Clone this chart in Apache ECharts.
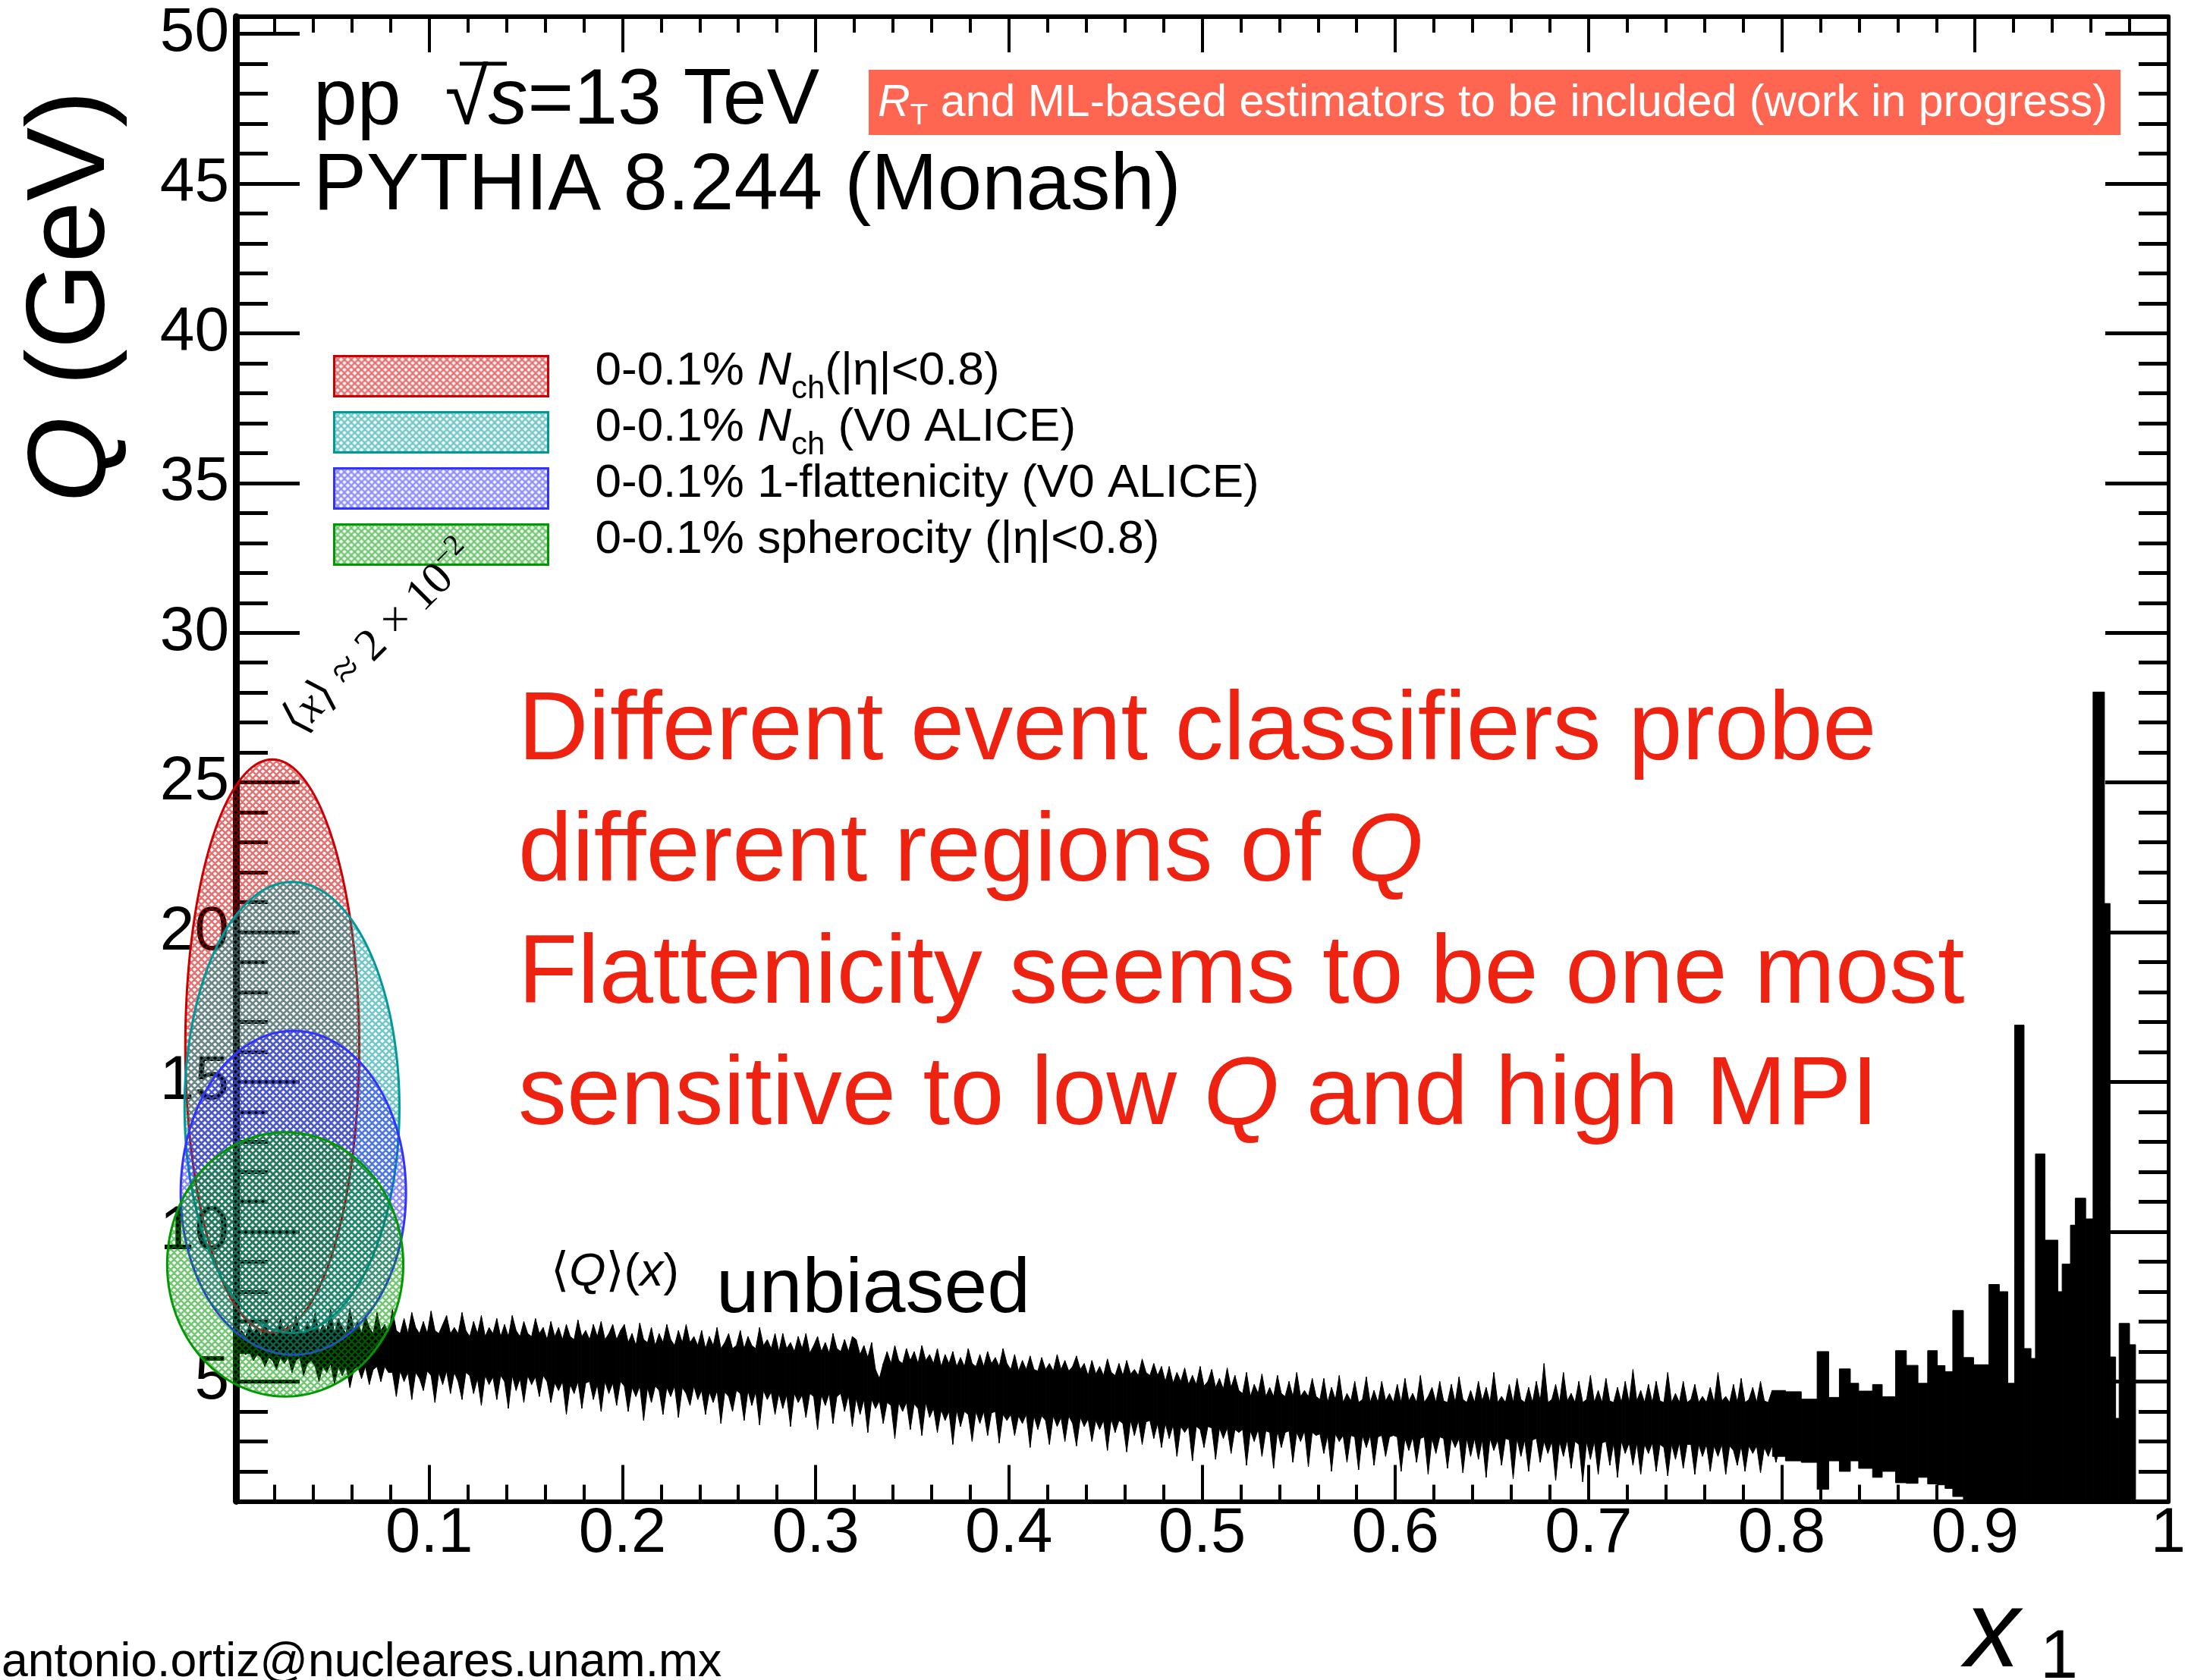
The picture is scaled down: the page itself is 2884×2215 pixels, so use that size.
<!DOCTYPE html>
<html><head><meta charset="utf-8">
<script src="https://cdn.jsdelivr.net/npm/echarts@6/dist/echarts.min.js"></script>
<style>html,body{margin:0;padding:0;background:#fff}#c{width:2884px;height:2215px}</style>
</head><body><div id="c"></div>
<script>
// ---------------- data ----------------
const yMajorTicks = [5, 10, 15, 20, 25, 30, 35, 40, 45, 50];
const yMinorTicks = [2, 3, 4, 6, 7, 8, 9, 11, 12, 13, 14, 16, 17, 18, 19, 21, 22, 23, 24, 26, 27, 28, 29,
  31, 32, 33, 34, 36, 37, 38, 39, 41, 42, 43, 44, 46, 47, 48, 49];

const ellipseNames = [
  '0-0.1% Nch(|η|<0.8)',
  '0-0.1% Nch (V0 ALICE)',
  '0-0.1% 1-flattenicity (V0 ALICE)',
  '0-0.1% spherocity (|η|<0.8)'
];
const ellipseCx = [0.0188, 0.0290, 0.0297, 0.0255];
const ellipseCy = [16.2, 14.15, 11.3, 8.91];
const ellipseRx = [0.0450, 0.0556, 0.0583, 0.0611];
const ellipseRy = [9.57, 7.53, 5.41, 4.41];

// <Q>(x) unbiased profile: bin centres start at bandStart with step bandStep
const bandStart = 0.001, bandStep = 0.002;
const bandHigh = [
  6.6, 6.7, 6.5, 6.9, 6.6, 6.8, 6.5, 7.0, 6.6, 6.7, 6.5, 7.1, 6.6, 6.9, 6.6, 7.2, 6.7, 6.6, 7.0, 6.7,
  7.3, 6.6, 6.9, 6.7, 7.4, 6.6, 7.1, 6.8, 6.6, 7.45, 6.7, 7.0, 6.6, 7.2, 6.8, 6.6, 7.3, 6.7, 6.9, 6.6,
  7.4, 6.7, 6.6, 7.1, 6.6, 7.3, 6.8, 6.6, 7.0, 6.6, 7.35, 6.7, 6.6, 6.9, 7.2, 6.6, 6.8, 6.6, 7.3, 6.7,
  6.5, 7.0, 6.6, 7.2, 6.5, 6.8, 6.6, 7.1, 6.5, 6.9, 6.5, 7.2, 6.7, 6.5, 7.0, 6.6, 6.5, 7.1, 6.6, 6.8,
  6.4, 7.0, 6.5, 6.8, 6.4, 6.9, 6.5, 6.4, 7.05, 6.5, 6.7, 6.4, 6.9, 6.5, 7.0, 6.4, 6.6, 6.9, 6.4, 6.7,
  6.9, 6.3, 6.6, 6.2, 6.95, 6.4, 6.3, 6.8, 6.2, 6.6, 6.3, 6.9, 6.4, 6.2, 6.7, 6.3, 6.9, 6.3, 6.5, 6.2,
  6.7, 6.1, 6.5, 6.2, 6.8, 6.1, 6.3, 6.6, 6.1, 6.2, 6.7, 6.1, 6.5, 6.2, 6.1, 6.8, 6.2, 6.4, 6.1, 6.6,
  6.0, 6.6, 6.1, 6.3, 6.0, 6.5, 6.1, 6.6, 5.95, 6.2, 6.5, 6.0, 6.3, 5.95, 6.6, 6.1, 6.0, 6.4, 6.0, 6.5,
  6.4, 5.9, 6.2, 5.8, 6.3, 5.4, 5.1, 5.6, 6.0, 5.6, 6.2, 5.7, 5.6, 6.1, 5.7, 6.0, 5.6, 6.2, 5.7, 5.9,
  5.6, 6.1, 5.5, 5.9, 5.6, 6.0, 5.5, 5.8, 5.5, 6.1, 5.6, 5.5, 5.9, 5.5, 6.0, 5.6, 5.8, 5.5, 6.1, 5.6,
  5.4, 5.9, 5.35, 5.7, 5.4, 5.85, 5.4, 5.35, 5.8, 5.4, 5.6, 5.35, 5.9, 5.4, 5.7, 5.35, 5.5, 5.85, 5.4, 5.6,
  5.2, 5.7, 5.25, 5.5, 5.2, 5.75, 5.3, 5.2, 5.6, 5.2, 5.7, 5.25, 5.4, 5.2, 5.75, 5.3, 5.2, 5.6, 5.2, 5.5,
  5.0, 5.5, 4.95, 5.3, 5.0, 5.45, 4.9, 5.2, 4.9, 5.5, 4.85, 5.0, 5.4, 4.8, 5.1, 4.75, 5.45, 4.8, 5.2, 4.7,
  4.6, 5.3, 4.5, 4.9, 4.6, 5.25, 4.5, 4.8, 4.5, 5.2, 4.6, 4.5, 5.0, 4.5, 5.3, 4.5, 4.7, 4.5, 5.1, 4.5,
  4.4, 5.1, 4.3, 4.8, 4.4, 5.2, 4.3, 4.6, 4.35, 5.0, 4.3, 4.4, 5.15, 4.3, 4.7, 4.3, 5.0, 4.35, 4.6, 4.3,
  4.9, 4.3, 5.1, 4.35, 4.6, 4.3, 5.2, 4.3, 4.5, 4.8, 4.3, 5.0, 4.35, 4.3, 4.9, 4.3, 5.15, 4.4, 4.3, 4.7,
  4.3, 5.0, 4.35, 4.8, 4.3, 5.3, 4.3, 4.5, 4.3, 4.9, 4.3, 5.1, 4.4, 4.3, 4.8, 4.3, 5.0, 4.35, 5.6, 4.3,
  4.4, 4.9, 4.3, 5.3, 4.35, 4.6, 4.3, 5.0, 4.3, 4.4, 5.2, 4.3, 4.7, 4.3, 5.1, 4.35, 4.3, 4.8, 4.3, 5.0,
  4.3, 5.4, 4.35, 4.7, 4.3, 4.9, 4.3, 5.0, 4.35, 4.3, 5.3, 4.3, 4.6, 4.3, 5.0, 4.3, 4.4, 4.9, 4.3, 4.5,
  4.3, 4.8, 4.3, 5.3, 4.35, 4.5, 4.3, 4.9, 4.3, 5.1, 4.3, 4.4, 4.8, 4.3, 5.0, 4.35, 4.3, 4.7, 4.3, 4.6
];
const bandLow = [
  6.1, 6.0, 5.9, 6.0, 5.7, 5.9, 5.8, 5.5, 5.8, 5.7, 5.4, 5.8, 5.6, 5.8, 5.3, 5.7, 5.8, 5.2, 5.6, 5.7,
  5.5, 5.0, 5.5, 5.3, 5.6, 4.9, 5.5, 5.2, 5.5, 4.8, 5.4, 5.5, 5.1, 5.5, 4.9, 5.4, 5.5, 5.0, 5.5, 5.3,
  5.3, 4.5, 5.35, 5.0, 5.3, 4.4, 5.3, 5.1, 4.7, 5.35, 5.2, 4.3, 5.3, 4.9, 5.35, 4.6, 5.3, 5.0, 4.4, 5.3,
  5.2, 4.6, 5.1, 4.2, 5.2, 4.9, 5.15, 4.4, 5.2, 5.0, 4.1, 5.2, 4.7, 5.1, 4.3, 5.2, 4.9, 5.15, 4.5, 5.2,
  5.0, 4.3, 4.95, 4.7, 5.0, 3.9, 4.9, 4.6, 5.0, 4.1, 4.95, 5.0, 4.4, 4.9, 4.0, 5.0, 4.6, 4.95, 4.2, 5.0,
  4.85, 4.0, 4.8, 4.5, 4.85, 3.7, 4.8, 4.3, 4.85, 4.7, 3.9, 4.8, 4.5, 4.85, 3.8, 4.8, 4.6, 4.2, 4.85, 4.4,
  4.7, 3.9, 4.65, 4.3, 4.7, 3.6, 4.65, 4.5, 4.0, 4.7, 4.6, 3.7, 4.7, 4.2, 4.65, 3.55, 4.7, 4.4, 4.65, 3.9,
  4.6, 4.1, 4.55, 3.5, 4.6, 4.3, 4.55, 3.8, 4.6, 4.5, 3.4, 4.55, 4.2, 4.6, 3.6, 4.5, 4.6, 4.0, 4.55, 3.5,
  4.45, 3.9, 4.4, 3.3, 4.4, 4.1, 4.35, 3.6, 4.3, 4.2, 3.1, 4.3, 4.0, 4.3, 3.4, 4.25, 4.1, 3.2, 4.3, 3.8,
  4.1, 3.3, 4.05, 3.7, 4.0, 2.9, 4.05, 3.5, 4.0, 3.9, 3.0, 4.0, 3.6, 4.0, 3.2, 3.95, 4.0, 2.95, 3.9, 3.7,
  3.9, 3.2, 3.85, 3.6, 3.9, 2.8, 3.85, 3.4, 3.85, 3.7, 2.9, 3.85, 3.5, 3.8, 3.0, 3.85, 3.6, 2.85, 3.8, 3.5,
  3.75, 3.0, 3.7, 3.4, 3.7, 2.7, 3.75, 3.3, 3.7, 3.6, 2.65, 3.7, 3.2, 3.7, 2.9, 3.65, 3.7, 3.1, 3.6, 2.8,
  3.6, 3.1, 3.55, 2.5, 3.5, 3.3, 3.5, 2.35, 3.5, 3.4, 2.8, 3.5, 3.45, 2.4, 3.45, 3.1, 3.45, 2.6, 3.4, 3.3,
  3.4, 2.2, 3.35, 3.0, 3.4, 2.5, 3.35, 3.3, 2.1, 3.35, 2.8, 3.3, 3.35, 2.3, 3.3, 3.0, 3.35, 2.15, 3.3, 3.2,
  3.25, 2.6, 3.2, 2.0, 3.25, 3.0, 3.2, 2.3, 3.2, 3.15, 2.05, 3.2, 2.8, 3.2, 2.2, 3.15, 3.2, 2.5, 3.15, 3.2,
  3.15, 2.0, 3.1, 2.7, 3.15, 2.3, 3.1, 3.15, 1.9, 3.1, 2.6, 3.15, 3.1, 2.1, 3.1, 2.8, 3.1, 1.95, 3.1, 2.5,
  3.1, 2.4, 3.05, 1.8, 3.1, 2.7, 3.05, 2.2, 3.1, 3.05, 1.75, 3.1, 2.5, 3.05, 2.0, 3.05, 3.1, 2.3, 3.0, 2.6,
  3.0, 1.7, 3.0, 2.5, 3.05, 2.1, 3.0, 2.9, 1.65, 3.0, 2.4, 3.0, 1.9, 2.95, 3.0, 2.2, 2.95, 1.8, 3.0, 2.6,
  2.95, 2.2, 2.95, 1.9, 2.9, 2.6, 2.95, 2.0, 2.9, 2.8, 1.85, 2.9, 2.4, 2.95, 2.1, 2.9, 2.9, 1.9, 2.9, 2.5,
  2.9, 2.0, 2.85, 2.5, 2.9, 1.9, 2.85, 2.7, 2.2, 2.85, 2.0, 2.85, 2.6, 2.85, 1.95, 2.8, 2.5, 2.85, 2.3, 2.8
];

// high-x tail drawn as histogram bins
const tailX0 = [0.7952, 0.8019, 0.8101, 0.8183, 0.8243, 0.8298, 0.8355, 0.8398, 0.8470, 0.8520,
  0.8589, 0.8645, 0.8705, 0.8755, 0.8805, 0.8845, 0.8885, 0.8940, 0.8993, 0.9072,
  0.9126, 0.9170, 0.9205, 0.9254, 0.9290, 0.9313, 0.9362, 0.9429, 0.9451, 0.9494,
  0.9519, 0.9573, 0.9611, 0.9670, 0.9699, 0.9728, 0.9746, 0.9800];
const tailX1 = [0.8019, 0.8101, 0.8183, 0.8243, 0.8298, 0.8355, 0.8398, 0.8470, 0.8520, 0.8589,
  0.8645, 0.8705, 0.8755, 0.8805, 0.8845, 0.8885, 0.8940, 0.8993, 0.9072, 0.9126,
  0.9170, 0.9205, 0.9254, 0.9290, 0.9313, 0.9362, 0.9429, 0.9451, 0.9494, 0.9519,
  0.9573, 0.9611, 0.9670, 0.9699, 0.9728, 0.9746, 0.9800, 0.9831];
const tailHigh = [4.70, 4.66, 4.41, 6.00, 4.47, 5.42, 4.94, 4.68, 4.90, 4.49,
  6.03, 5.54, 4.94, 6.03, 5.53, 5.33, 7.37, 5.80, 5.56, 8.24,
  8.00, 4.94, 16.9, 6.10, 5.77, 12.6, 9.72, 8.00, 8.92, 10.22,
  11.12, 10.43, 28.02, 20.96, 5.82, 3.77, 6.94, 6.23];
const tailLow = [2.5, 2.35, 2.3, 1.4, 2.35, 2.0, 2.35, 2.1, 1.8, 2.0,
  1.62, 1.6, 1.8, 1.58, 1.55, 1.43, 1.16, 1.0, 1.0, 1.0,
  1.0, 1.0, 1.0, 1.0, 1.0, 1.0, 1.0, 1.0, 1.0, 1.0,
  1.0, 1.0, 1.0, 1.0, 1.0, 1.0, 1.0, 1.0];

// ---------------- styles ----------------
const FONT = "'Liberation Sans', 'DejaVu Sans', Arial, sans-serif";
const SERIF = "'Liberation Serif', 'DejaVu Serif', serif";
const ellipseLine = ['#cc0000', '#009999', '#3333ff', '#009900'];
const ellipseHatch = ['rgba(204,0,0,0.55)', 'rgba(0,153,153,0.55)', 'rgba(51,51,255,0.55)', 'rgba(0,153,0,0.55)'];
const RED = '#ee2211';

function hatch(col) {
  const s = 9;
  const c = document.createElement('canvas');
  c.width = s; c.height = s;
  const g = c.getContext('2d');
  g.strokeStyle = col; g.lineWidth = 2.6;
  g.beginPath();
  for (let k = -1; k <= 1; k++) {
    g.moveTo(k * s, 0); g.lineTo(k * s + s, s);
    g.moveTo(k * s + s, 0); g.lineTo(k * s, s);
  }
  g.stroke();
  return { image: c, repeat: 'repeat' };
}
const patterns = ellipseHatch.map(hatch);

const legendLabels = {};
legendLabels[ellipseNames[0]] = '0-0.1% {i|N}{s|ch}(|η|<0.8)';
legendLabels[ellipseNames[1]] = '0-0.1% {i|N}{s|ch} (V0 ALICE)';
legendLabels[ellipseNames[2]] = '0-0.1% 1-flattenicity (V0 ALICE){s| }';
legendLabels[ellipseNames[3]] = '0-0.1% spherocity (|η|<0.8){s| }';

// ---------------- series ----------------
const bandData = bandHigh.map((h, i) => [bandStart + i * bandStep, h, bandLow[i]]);
const tailData = tailX0.map((x0, i) => [x0, tailHigh[i], tailX1[i], tailLow[i]]);

const series = [];
series.push({
  type: 'custom', name: 'unbiased', clip: true, z: 2,
  data: bandData, encode: { x: 0, y: 1 },
  renderItem: function (params, api) {
    const i = params.dataIndex;
    if (i >= bandData.length - 1) return null;
    const a = bandData[i], b = bandData[i + 1];
    const pts = [api.coord([a[0], a[1]]), api.coord([b[0], b[1]]), api.coord([b[0], b[2]]), api.coord([a[0], a[2]])];
    return { type: 'polygon', shape: { points: pts }, style: { fill: '#000', stroke: '#000', lineWidth: 1 } };
  }
});
series.push({
  type: 'custom', name: 'tail', clip: true, z: 2,
  data: tailData, encode: { x: 0, y: 1 },
  renderItem: function (params, api) {
    const p0 = api.coord([api.value(0), api.value(1)]);
    const p1 = api.coord([api.value(2), api.value(3)]);
    return { type: 'rect', shape: { x: p0[0], y: p0[1], width: p1[0] - p0[0], height: p1[1] - p0[1] },
      style: { fill: '#000', stroke: '#000', lineWidth: 1 } };
  }
});
ellipseNames.forEach((name, k) => {
  series.push({
    type: 'custom', name: name, clip: false, z: 3 + k,
    itemStyle: { color: patterns[k], borderColor: ellipseLine[k], borderWidth: 3 },
    data: [[ellipseCx[k], ellipseCy[k], ellipseRx[k], ellipseRy[k]]],
    encode: { x: 0, y: 1 },
    renderItem: function (params, api) {
      const cx = api.value(0), cy = api.value(1), rx = api.value(2), ry = api.value(3);
      const pts = [];
      for (let j = 0; j < 160; j++) {
        const t = j / 160 * Math.PI * 2;
        pts.push(api.coord([cx + rx * Math.cos(t), cy + ry * Math.sin(t)]));
      }
      return { type: 'polygon', shape: { points: pts },
        style: { fill: patterns[k], stroke: ellipseLine[k], lineWidth: 3, blend: 'multiply' } };
    }
  });
});

// ---------------- axes ----------------
const tickStyle = { color: '#000', width: 4 };
function xAx(pos, major, minor, showLabel, lw) {
  return {
    type: 'value', position: pos, min: 0, max: 1, interval: 0.1,
    axisLine: { show: true, onZero: false, lineStyle: { color: '#000', width: lw } },
    axisTick: { show: true, inside: true, length: major, lineStyle: tickStyle },
    minorTick: { show: true, splitNumber: 5, length: minor, lineStyle: tickStyle },
    axisLabel: { show: showLabel, fontSize: 83, fontFamily: FONT, color: '#000', margin: 2, showMaxLabel: true,
      formatter: v => (v < 1e-9 ? '' : String(+v.toFixed(1))) },
    splitLine: { show: false }, minorSplitLine: { show: false }
  };
}
function yAx(pos, ticks, len, showLabel, showLine, lw) {
  return {
    type: 'value', position: pos, min: 1, max: 50.57,
    axisLine: { show: showLine, onZero: false, lineStyle: { color: '#000', width: lw } },
    axisTick: { show: true, inside: true, length: len, customValues: ticks, lineStyle: { color: '#000', width: 5 } },
    axisLabel: { show: showLabel, customValues: ticks, fontSize: 82, fontFamily: FONT, color: '#000', margin: 9 },
    splitLine: { show: false }
  };
}

// ---------------- texts ----------------
function T(x, y, text, fs, extra) {
  return { type: 'text', x: x, y: y, z: 100,
    style: Object.assign({ text: text, fontSize: fs, fontFamily: FONT, fill: '#000', align: 'left', verticalAlign: 'middle' }, extra || {}) };
}
function R(fs, o) { return Object.assign({ fontSize: fs, fontFamily: FONT }, o || {}); }

const graphics = [
  T(413, 134, '{a|pp  √}{i|s}{a|=13 TeV}', 104, { rich: { a: R(104, { fill: '#000' }), i: R(104, { fill: '#000', fontStyle: 'italic' }) } }),
  { type: 'line', z: 100, shape: { x1: 606, y1: 84, x2: 668, y2: 84 }, style: { stroke: '#000', lineWidth: 5 } },
  T(413, 247, 'PYTHIA 8.244 (Monash)', 105),
  { type: 'rect', z: 99, shape: { x: 1145, y: 92, width: 1650, height: 86 }, style: { fill: '#ff6652' } },
  T(1157, 137, '{i|R}{s|T}{a| and ML-based estimators to be included (work in progress)}', 59, {
    rich: { a: R(59, { fill: '#fff', lineHeight: 72 }), i: R(59, { fill: '#fff', fontStyle: 'italic', lineHeight: 72 }),
      s: R(39, { fill: '#fff', verticalAlign: 'bottom', lineHeight: 40 }) } }),
  T(683, 966, 'Different event classifiers probe', 128, { fill: RED }),
  T(683, 1126, '{a|different regions of }{i|Q}', 128, { rich: { a: R(128, { fill: RED }), i: R(128, { fill: RED, fontStyle: 'italic' }) } }),
  T(683, 1287, 'Flattenicity seems to be one most', 128, { fill: RED }),
  T(683, 1447, '{a|sensitive to low }{i|Q}{a| and high MPI}', 128, { rich: { a: R(128, { fill: RED }), i: R(128, { fill: RED, fontStyle: 'italic' }) } }),
  T(726, 1678, '{a|⟨}{i|Q}{a|⟩(}{i|x}{a|)}', 62, { rich: { a: R(62, { fill: '#000' }), i: R(62, { fill: '#000', fontStyle: 'italic' }) } }),
  T(944, 1702, 'unbiased', 102),
  { type: 'text', x: 501, y: 842, rotation: Math.PI / 4, z: 100,
    style: { text: '{a|⟨}{i|x}{a|⟩ ≈ 2 × 10}{s|−2}', align: 'center', verticalAlign: 'middle',
      rich: { a: { fontSize: 60, fontFamily: SERIF, fill: '#000', lineHeight: 72 },
        i: { fontSize: 60, fontFamily: SERIF, fontStyle: 'italic', fill: '#000', lineHeight: 72 },
        s: { fontSize: 39, fontFamily: SERIF, fill: '#000', verticalAlign: 'top', lineHeight: 39 } } } },
  { type: 'text', x: 97, y: 391, rotation: Math.PI / 2, z: 100,
    style: { text: '{i|Q}{a| (GeV)}', align: 'center', verticalAlign: 'middle',
      rich: { a: R(146, { fill: '#000' }), i: R(146, { fill: '#000', fontStyle: 'italic' }) } } },
  T(2590, 2157, 'x', 145, { fontStyle: 'italic' }),
  T(2689, 2187, '1', 90),
  T(2, 2193, 'antonio.ortiz@nucleares.unam.mx', 62.5)
];

// ---------------- chart ----------------
const chart = echarts.init(document.getElementById('c'), null, { renderer: 'canvas' });
chart.setOption({
  animation: false,
  backgroundColor: '#fff',
  grid: { left: 311, right: 20, top: 22, bottom: 235.6, containLabel: false },
  xAxis: [xAx('bottom', 48, 22, true, 6), xAx('top', 47, 21, false, 6)],
  yAxis: [
    yAx('left', yMajorTicks, 84, true, true, 9),
    yAx('left', yMinorTicks, 42, false, false, 1),
    yAx('right', yMajorTicks, 83, false, true, 5),
    yAx('right', yMinorTicks, 39, false, false, 1)
  ],
  legend: {
    orient: 'vertical', left: 439, top: 446, padding: 0, itemGap: -14,
    itemWidth: 282, itemHeight: 53, icon: 'rect', selectedMode: false,
    data: ellipseNames.map((n, k) => ({ name: n, itemStyle: { color: patterns[k], borderColor: ellipseLine[k], borderWidth: 3 } })),
    formatter: n => legendLabels[n],
    textStyle: { fontSize: 62, fontFamily: FONT, color: '#000', lineHeight: 53, padding: [0, 0, 12, 57],
      rich: { i: R(62, { fontStyle: 'italic', color: '#000', lineHeight: 53 }),
        s: R(42, { color: '#000', verticalAlign: 'middle', lineHeight: 6, padding: [46, 0, 0, 0] }) } }
  },
  graphic: graphics,
  series: series
});
</script>
</body></html>
